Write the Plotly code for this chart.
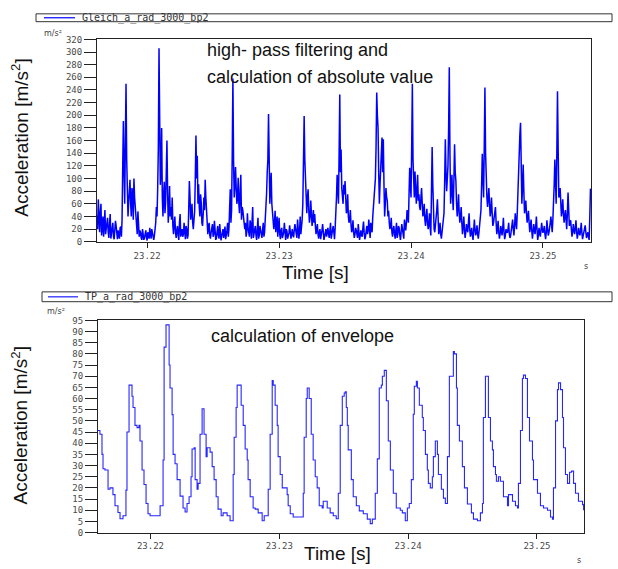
import numpy as np
import plotly.graph_objects as go

W, H = 618, 569

# ---------------- data ----------------
# top: high-pass filtered, absolute value; samples every 0.1 ms from 23.2162 s
top_t0 = 23.2162
top_dt = 0.0001
top_acc = [
    42, 67, 15, 60, 28, 8, 50, 20, 38, 6, 44, 12, 30, 4, 33, 9, 18, 5, 24, 35, 191, 60, 250, 85, 62,
    98, 40, 78, 100, 55, 20, 48, 8, 15, 3, 12, 6, 18, 2, 10, 22, 5, 14, 3, 20, 55, 85, 306, 90, 180,
    40, 95, 62, 160, 30, 88, 55, 70, 12, 40, 6, 25, 3, 44, 15, 8, 30, 4, 20, 10, 96, 35, 60, 20, 48,
    168, 136, 91, 40, 62, 25, 70, 98, 49, 12, 30, 5, 22, 8, 33, 3, 18, 10, 28, 2, 15, 6, 24, 9, 30,
    20, 83, 50, 258, 70, 118, 60, 101, 45, 106, 55, 39, 20, 8, 45, 15, 34, 5, 55, 12, 25, 3, 38, 10, 18,
    6, 30, 15, 50, 109, 202, 60, 109, 42, 20, 49, 25, 8, 38, 4, 22, 12, 30, 3, 16, 9, 26, 5, 20, 7,
    28, 10, 35, 5, 40, 20, 60, 199, 86, 45, 83, 30, 65, 25, 50, 44, 12, 28, 5, 20, 9, 28, 3, 15, 8,
    22, 6, 30, 12, 25, 4, 40, 106, 60, 233, 146, 70, 90, 96, 45, 75, 30, 50, 15, 34, 6, 22, 10, 28, 3,
    18, 8, 32, 4, 20, 12, 35, 6, 25, 40, 75, 100, 236, 180, 60, 110, 165, 162, 40, 85, 65, 49, 20, 38, 8,
    25, 5, 30, 12, 22, 3, 28, 10, 35, 18, 50, 30, 117, 70, 250, 80, 111, 60, 106, 75, 50, 85, 40, 60, 25,
    52, 20, 45, 10, 150, 35, 15, 40, 67, 12, 30, 5, 25, 45, 162, 80, 120, 276, 60, 106, 50, 154, 96, 40, 75,
    30, 55, 12, 40, 6, 28, 15, 45, 8, 22, 3, 35, 10, 26, 5, 30, 50, 139, 70, 244, 91, 55, 85, 40, 70,
    25, 40, 55, 12, 33, 5, 25, 10, 38, 4, 20, 14, 30, 6, 22, 35, 10, 45, 20, 80, 168, 188, 60, 122, 45,
    65, 30, 49, 15, 35, 5, 28, 12, 40, 3, 22, 8, 30, 14, 25, 4, 34, 10, 20, 40, 15, 55, 130, 60, 238,
    70, 85, 40, 67, 30, 50, 20, 78, 25, 34, 8, 28, 12, 34, 5, 22, 10, 30, 4, 18, 26, 6, 15, 3, 84,
]
# values read half-way between the samples above
top_acc_mid = [
    20, 35, 45, 10, 40, 25, 12, 35, 15, 28, 5, 22, 8, 18, 25, 4, 12, 22, 8, 120, 110, 160, 130, 40, 75,
    60, 85, 35, 70, 30, 12, 25, 18, 6, 20, 3, 10, 7, 15, 5, 12, 20, 8, 10, 30, 40, 150, 120, 110, 70,
    75, 45, 110, 80, 50, 40, 35, 25, 30, 15, 18, 10, 30, 8, 20, 12, 6, 25, 5, 50, 70, 45, 30, 35, 100,
    100, 60, 55, 75, 30, 45, 50, 70, 20, 25, 10, 15, 28, 12, 20, 6, 25, 5, 14, 9, 20, 12, 4, 18, 8,
    45, 30, 140, 130, 90, 85, 70, 60, 80, 35, 50, 25, 30, 15, 22, 8, 28, 30, 6, 18, 10, 20, 5, 25, 12,
    18, 8, 35, 75, 130, 110, 85, 60, 35, 30, 15, 40, 20, 12, 18, 6, 15, 10, 20, 5, 14, 8, 12, 10, 18,
    20, 6, 22, 15, 12, 35, 110, 130, 60, 70, 50, 40, 45, 35, 30, 25, 20, 12, 15, 4, 18, 10, 8, 20, 14,
    12, 18, 5, 20, 15, 22, 70, 80, 140, 110, 85, 60, 75, 55, 50, 40, 35, 28, 20, 15, 12, 18, 6, 15, 10,
    10, 22, 14, 8, 25, 18, 12, 30, 15, 55, 85, 150, 200, 110, 90, 130, 110, 90, 60, 70, 40, 30, 25, 15, 20,
    12, 18, 6, 25, 10, 15, 20, 5, 22, 30, 40, 75, 90, 150, 130, 70, 90, 80, 65, 55, 70, 60, 45, 35, 40,
    30, 28, 22, 80, 90, 20, 25, 50, 30, 18, 12, 15, 30, 95, 110, 100, 180, 140, 80, 70, 100, 110, 60, 55, 45,
    40, 30, 25, 18, 15, 20, 30, 20, 14, 10, 18, 20, 15, 12, 15, 35, 90, 100, 150, 140, 70, 65, 60, 50, 45,
    30, 45, 30, 20, 15, 12, 18, 22, 15, 10, 16, 20, 12, 10, 25, 20, 25, 30, 45, 120, 170, 110, 85, 80, 55,
    45, 40, 30, 25, 18, 15, 18, 25, 20, 10, 14, 18, 20, 18, 12, 15, 20, 14, 30, 25, 35, 90, 95, 140, 150,
    75, 60, 50, 45, 40, 35, 45, 50, 30, 20, 15, 18, 22, 16, 12, 15, 18, 14, 10, 20, 15, 10, 8, 40,
]
t_main = top_t0 + top_dt * np.arange(len(top_acc))
t_mid = top_t0 + top_dt * (np.arange(len(top_acc_mid)) + 0.5)
order = np.argsort(np.concatenate([t_main, t_mid]), kind="stable")
top_t = np.concatenate([t_main, t_mid])[order]
top_y = np.concatenate([np.array(top_acc, float), np.array(top_acc_mid, float)])[order]

# bottom: envelope (low-pass)
bot_t = [
    23.21593, 23.21608, 23.21624, 23.21632, 23.21647, 23.21663, 23.21671, 23.21686, 23.21709, 23.21725,
    23.21748, 23.21764, 23.21779, 23.21787, 23.21810, 23.21818, 23.21834, 23.21857, 23.21865, 23.21880,
    23.21896, 23.21911, 23.21919, 23.21935, 23.21950, 23.21966, 23.21981, 23.21997, 23.22059, 23.22075,
    23.22098, 23.22106, 23.22121, 23.22129, 23.22145, 23.22152, 23.22168, 23.22176, 23.22191, 23.22207,
    23.22230, 23.22253, 23.22269, 23.22284, 23.22300, 23.22315, 23.22323, 23.22339, 23.22347, 23.22362,
    23.22370, 23.22385, 23.22401, 23.22409, 23.22416, 23.22432, 23.22440, 23.22463, 23.22479, 23.22494,
    23.22510, 23.22525, 23.22549, 23.22564, 23.22595, 23.22618, 23.22642, 23.22650, 23.22665, 23.22673,
    23.22688, 23.22704, 23.22720, 23.22735, 23.22751, 23.22758, 23.22774, 23.22797, 23.22813, 23.22836,
    23.22867, 23.22883, 23.22906, 23.22914, 23.22929, 23.22945, 23.22953, 23.22968, 23.22984, 23.22991,
    23.23007, 23.23023, 23.23030, 23.23061, 23.23069, 23.23085, 23.23108, 23.23178, 23.23186, 23.23193,
    23.23209, 23.23217, 23.23232, 23.23248, 23.23263, 23.23279, 23.23294, 23.23310, 23.23333, 23.23341,
    23.23357, 23.23372, 23.23395, 23.23419, 23.23442, 23.23458, 23.23473, 23.23489, 23.23504, 23.23512,
    23.23520, 23.23528, 23.23535, 23.23559, 23.23574, 23.23598, 23.23621, 23.23652, 23.23683, 23.23706,
    23.23722, 23.23730, 23.23745, 23.23761, 23.23776, 23.23792, 23.23800, 23.23815, 23.23831, 23.23846,
    23.23862, 23.23885, 23.23908, 23.23939, 23.23955, 23.23978, 23.23994, 23.24009, 23.24025, 23.24040,
    23.24048, 23.24064, 23.24072, 23.24087, 23.24110, 23.24118, 23.24134, 23.24149, 23.24157, 23.24172,
    23.24188, 23.24196, 23.24211, 23.24227, 23.24235, 23.24258, 23.24274, 23.24289, 23.24297, 23.24305,
    23.24320, 23.24351, 23.24359, 23.24375, 23.24382, 23.24398, 23.24421, 23.24437, 23.24460, 23.24491,
    23.24507, 23.24538, 23.24561, 23.24577, 23.24584, 23.24600, 23.24615, 23.24623, 23.24639, 23.24654,
    23.24662, 23.24678, 23.24685, 23.24701, 23.24716, 23.24740, 23.24771, 23.24779, 23.24810, 23.24833,
    23.24849, 23.24856, 23.24872, 23.24887, 23.24895, 23.24911, 23.24926, 23.24942, 23.24965, 23.24973,
    23.25004, 23.25027, 23.25051, 23.25082, 23.25105, 23.25120, 23.25128, 23.25144, 23.25159, 23.25167,
    23.25183, 23.25198, 23.25206, 23.25221, 23.25237, 23.25253, 23.25268, 23.25284, 23.25299, 23.25322,
    23.25354, 23.25362,
]
bot_acc = [
    45.7, 44, 35, 28.6, 28, 28, 19.4, 20, 17, 12,
    9, 6.2, 6.2, 7.5, 19, 45, 66, 61, 56, 48,
    47, 48, 41, 28, 21.5, 13, 8.4, 7.5, 7.5, 12,
    32.5, 83, 93, 93, 75, 64.7, 52.8, 35, 30.8, 23.7,
    16.3, 11, 9.2, 13, 16, 25, 37.4, 38, 23.7, 19.4,
    22, 44, 55.4, 55.4, 44, 34, 38, 36, 29.5, 23.7,
    16, 10.5, 7.5, 8.8, 7.5, 5.3, 26, 42.7, 56, 66,
    66, 57, 48, 37.4, 32.5, 23.7, 16, 11, 10.5, 8.8,
    5.3, 7.5, 7.5, 19.4, 44, 68, 66, 57, 48, 34,
    26, 20, 20, 17, 12, 8.4, 7, 7, 17.6, 42.7,
    60, 64.7, 60, 44, 32.5, 25, 20, 12, 11, 14,
    14, 11, 8.8, 7.5, 6.2, 17.6, 48, 61, 62.5, 63,
    56, 48, 37, 23.7, 16, 12, 9.7, 8.4, 6, 4,
    6, 6, 17.6, 33, 64.7, 66, 70, 72.6, 59, 41,
    28, 17.6, 11, 10, 8.8, 5.3, 11, 13, 23.7, 53,
    65.5, 67.7, 64.7, 57, 51.5, 45.7, 35, 28, 22, 20,
    25, 34, 41, 35, 26, 19.4, 15.4, 13, 13, 34,
    70, 81, 80, 64.7, 48, 41, 29.5, 20, 12.8, 8.8,
    6, 5.3, 8.8, 13, 51.5, 70, 70, 51.5, 41, 37,
    29.5, 26, 23, 25, 23, 16, 12, 17, 14, 12,
    11, 22, 45.7, 69, 70.5, 69, 51.5, 41, 32.5, 23.7,
    17.6, 12, 11, 10, 7, 6, 20, 50, 64, 67,
    64, 51.5, 38, 26, 22, 27, 27.5, 22, 17.6, 14,
    12.5, 10, 7,
]
bot_t = bot_t[:len(bot_acc)]

x_tickvals = [23.22, 23.23, 23.24, 23.25]
x_ticklabels = ["23.22", "23.23", "23.24", "23.25"]
top_yticks = list(range(0, 321, 20))
bot_yticks = list(range(0, 96, 5))

# ---------------- figure ----------------
def px(x):
    return x / W

def py(y):
    return 1 - y / H

TICKFONT = dict(family="DejaVu Sans Mono", size=9, color="#4a4a4a")
TITLEFONT = dict(family="Liberation Sans, Arial", size=19, color="#111111")

fig = go.Figure()
fig.add_trace(go.Scatter(x=top_t, y=top_y, mode="lines",
                         line=dict(color="#0000ff", width=1.5),
                         xaxis="x", yaxis="y", showlegend=False))
fig.add_trace(go.Scatter(x=bot_t, y=bot_acc, mode="lines",
                         line=dict(color="#2626ff", width=1.1, shape="hv"),
                         xaxis="x2", yaxis="y2", showlegend=False))

common_x = dict(ticks="outside", ticklen=5, tickcolor="#222", showline=True,
                linecolor="#222", linewidth=1, mirror=True, showgrid=False,
                zeroline=False, tickfont=TICKFONT, tickvals=x_tickvals,
                ticktext=x_ticklabels)
common_y = dict(ticks="outside", ticklen=12, tickcolor="#222", showline=True,
                linecolor="#222", linewidth=1, mirror=True, showgrid=False,
                zeroline=False, tickfont=TICKFONT)

fig.update_layout(
    width=W, height=H,
    margin=dict(l=0, r=0, t=0, b=0),
    paper_bgcolor="white", plot_bgcolor="white",
    xaxis=dict(domain=[px(97), px(591)], range=[23.2162, 23.25364], anchor="y", **common_x),
    yaxis=dict(domain=[py(241), py(35)], range=[0, 320], tickvals=top_yticks, anchor="x", **common_y),
    xaxis2=dict(domain=[px(98), px(584)], range=[23.21593, 23.25365], anchor="y2", **common_x),
    yaxis2=dict(domain=[py(537), py(321)], range=[0, 95], tickvals=bot_yticks, anchor="x2", **common_y),
)

ann = []
ann.append(dict(text="Acceleration [m/s<sup>2</sup>]", textangle=-90, x=px(20), y=py(135),
                xref="paper", yref="paper", showarrow=False, font=TITLEFONT,
                xanchor="center", yanchor="middle"))
ann.append(dict(text="Acceleration [m/s<sup>2</sup>]", textangle=-90, x=px(20), y=py(428),
                xref="paper", yref="paper", showarrow=False, font=TITLEFONT,
                xanchor="center", yanchor="middle"))
ann.append(dict(text="Time [s]", x=px(315), y=py(272), xref="paper", yref="paper",
                showarrow=False, font=TITLEFONT, xanchor="center", yanchor="middle"))
ann.append(dict(text="Time [s]", x=px(337), y=py(558), xref="paper", yref="paper",
                showarrow=False, font=TITLEFONT, xanchor="center", yanchor="middle"))
small = dict(family="DejaVu Sans", size=8, color="#444444")
ann.append(dict(text="m/s\u00b2", x=px(42), y=py(29), xref="paper", yref="paper",
                showarrow=False, font=small, xanchor="left", yanchor="middle"))
ann.append(dict(text="m/s\u00b2", x=px(45), y=py(312), xref="paper", yref="paper",
                showarrow=False, font=small, xanchor="left", yanchor="middle"))
ann.append(dict(text="s", x=px(586), y=py(266), xref="paper", yref="paper",
                showarrow=False, font=small, xanchor="center", yanchor="middle"))
ann.append(dict(text="s", x=px(579), y=py(565), xref="paper", yref="paper",
                showarrow=False, font=small, xanchor="center", yanchor="middle"))
desc = dict(family="Liberation Sans, Arial", size=18, color="#111111")
ann.append(dict(text="high- pass filtering and", x=px(205), y=py(46), xref="paper", yref="paper",
                showarrow=False, font=desc, xanchor="left", yanchor="middle"))
ann.append(dict(text="calculation of absolute value", x=px(205), y=py(73), xref="paper", yref="paper",
                showarrow=False, font=desc, xanchor="left", yanchor="middle"))
ann.append(dict(text="calculation of envelope", x=px(209), y=py(337), xref="paper", yref="paper",
                showarrow=False, font=desc, xanchor="left", yanchor="middle"))
legfont = dict(family="DejaVu Sans Mono", size=10, color="#333333")
ann.append(dict(text="Gleich_a_rad_3000_bp2", x=px(80), y=py(13), xref="paper", yref="paper",
                showarrow=False, font=legfont, xanchor="left", yanchor="middle"))
ann.append(dict(text="TP_a_rad_3000_bp2", x=px(83), y=py(297), xref="paper", yref="paper",
                showarrow=False, font=legfont, xanchor="left", yanchor="middle"))
fig.update_layout(annotations=ann)

shapes = [
    dict(type="rect", xref="paper", yref="paper", x0=px(36), x1=px(612), y0=py(17), y1=py(9),
         line=dict(color="#333", width=1), fillcolor="rgba(0,0,0,0)"),
    dict(type="line", xref="paper", yref="paper", x0=px(44), x1=px(75), y0=py(13), y1=py(13),
         line=dict(color="#0000ff", width=1.2)),
    dict(type="rect", xref="paper", yref="paper", x0=px(42), x1=px(612), y0=py(302), y1=py(292),
         line=dict(color="#333", width=1), fillcolor="rgba(0,0,0,0)"),
    dict(type="line", xref="paper", yref="paper", x0=px(48), x1=px(78), y0=py(297), y1=py(297),
         line=dict(color="#4a4aff", width=1.5)),
]
fig.update_layout(shapes=shapes)

fig.write_html("out.html")
